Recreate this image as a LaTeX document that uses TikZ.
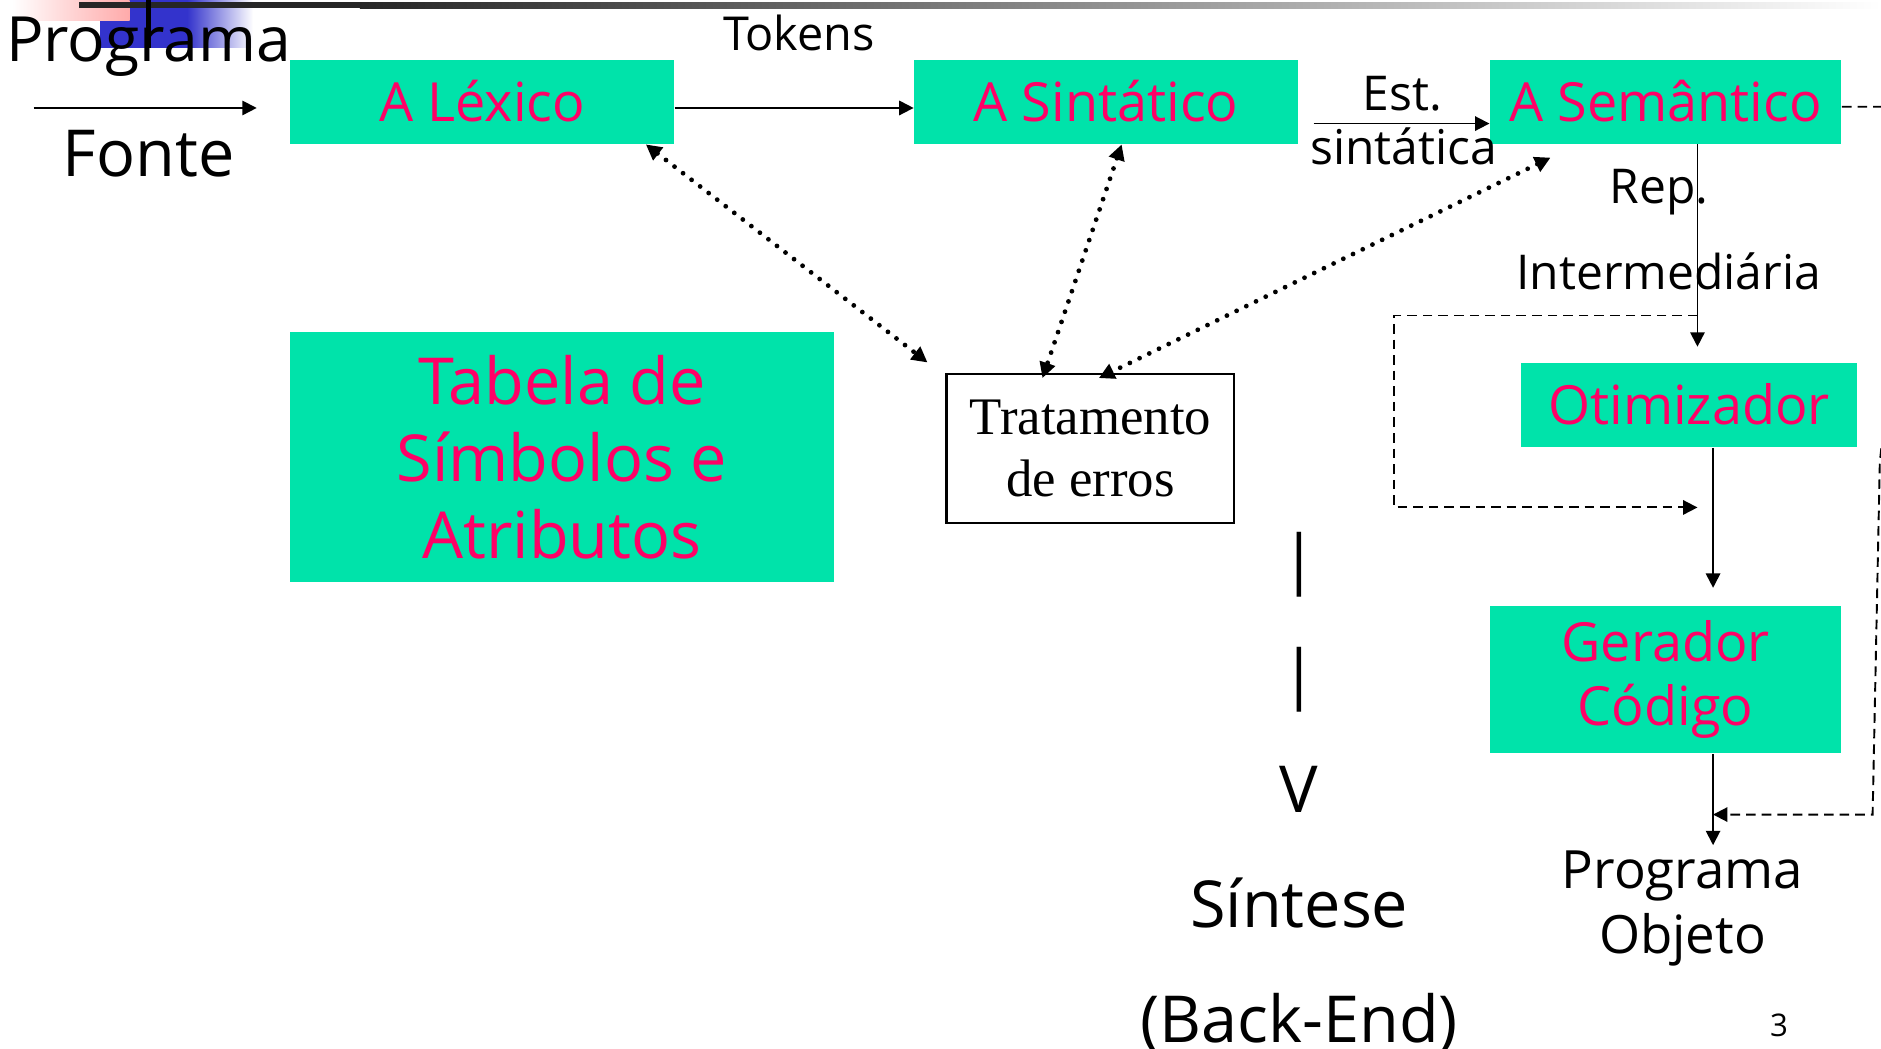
\documentclass[tikz,border=0pt]{standalone}
\usepackage{fontspec}
\setmainfont{Open Sans}
\newfontfamily\timesfont{Liberation Serif}
\usetikzlibrary{arrows.meta}
\definecolor{boxgreen}{RGB}{0,227,170}
\definecolor{boxpink}{RGB}{255,0,102}
\definecolor{tplblue}{RGB}{51,51,204}
\definecolor{tplpink}{RGB}{255,170,170}

\begin{document}
\begin{tikzpicture}[x=0.5pt, y=-0.5pt,
  every node/.style = {inner sep=0pt, align=center},
  phase/.style = {fill=boxgreen, text=boxpink,
    font=\fontsize{22.5}{26.5}\selectfont},
  oneline/.style = {text height=16.2pt, text depth=0pt},
  note/.style = {anchor=base, font=\fontsize{20}{24}\selectfont},
  big/.style = {anchor=base, font=\fontsize{27}{32}\selectfont},
  flow/.style = {line width=0.75pt, -{Triangle[length=6pt,width=6pt]}},
  bypass/.style = {line width=0.8pt, dash pattern=on 4pt off 2.5pt,
    -{Triangle[length=6pt,width=6pt]}},
  errlink/.style = {line width=2pt, line cap=round,
    dash pattern=on 0pt off 4.5pt,
    {Triangle[length=6.5pt,width=6.5pt]}-{Triangle[length=6.5pt,width=6.5pt]}}]
  \useasboundingbox (0,0) rectangle (1568,874);

  % slide template
  \fill[tplblue] (83,0) rectangle (156,40);
  \shade[left color=tplblue, right color=white] (156,0) rectangle (211,40);
  \shade[left color=white, right color=tplpink] (10,0) rectangle (108,17);
  \fill[black!85] (66,2) rectangle (300,7);
  \shade[left color=black!85, right color=white] (300,2) rectangle (1568,7);
  \draw[line width=2pt] (124,0) -- (124,40);

  % analysis chain
  \node[phase, oneline, minimum width=160pt, minimum height=35pt] (lex) at (402,85) {A Léxico};
  \node[phase, oneline, minimum width=160pt, minimum height=35pt] (sin) at (922,85) {A Sintático};
  \node[phase, oneline, minimum width=146.5pt, minimum height=35pt] (sem) at (1388.5,85) {A Semântico};
  \node[phase, oneline, minimum width=140pt, minimum height=35pt] (opt) at (1408,338) {Otimizador};
  \node[phase, minimum width=146.5pt, minimum height=61.5pt] (gen) at (1388.5,566.5) {Gerador\\Código};
  \node[phase, font=\fontsize{27}{32}\selectfont,
    minimum width=226.5pt, minimum height=104pt] (tab) at (468.5,381) {Tabela de\\Símbolos e\\Atributos};
  \node[draw, line width=0.85pt, font=\timesfont\fontsize{22}{26}\selectfont,
    minimum width=120pt, minimum height=62pt] (err) at (909,374) {Tratamento\\de erros};

  % texts
  \node[anchor=base, font=\fontsize{26}{30}\selectfont] (src) at (124,51.4) {Programa};
  \node[big] (fonte) at (124,147) {Fonte};
  \node[note, font=\fontsize{19.5}{24}\selectfont] (tok) at (666,41.7) {Tokens};
  \node[note] (est) at (1169,91.7) {Est.};
  \node[note] (estb) at (1170,137.5) {sintática};
  \node[note] (rep) at (1383,169.4) {Rep.};
  \node[note] (inter) at (1391,241.7) {Intermediária};
  \node[font=\fontsize{22}{27}\selectfont] (obj) at (1402.5,757) {Programa\\Objeto};
  \node[big] (bar1) at (1083,485) {|};
  \node[big] (bar2) at (1083,581) {|};
  \node[big] (vee) at (1083,677) {V};
  \node[big] (synth) at (1083,773) {Síntese};
  \node[big] (back) at (1083,869) {(Back-End)};
  \node[anchor=base, font=\fontsize{13}{16}\selectfont] (page) at (1483,864) {3};

  % connectors
  \coordinate (flowline) at (0,90);
  \coordinate (src-a) at (28,90);
  \coordinate (src-b) at (214,90);
  \coordinate (est-a) at (1095,103);
  \coordinate (opt-in) at (1415,289);
  \coordinate (gen-in) at (1428,490);
  \coordinate (obj-in) at (1428,704.5);
  \coordinate (byp-a) at (1415,263);
  \coordinate (byp-b) at (1162,423);
  \coordinate (back-a) at (1600,89);
  \coordinate (back-b) at (1567,385);
  \coordinate (back-c) at (1561,679);

  \draw[flow] (src-a) -- (src-b);
  \draw[flow] (lex.east |- flowline) -- (sin.west |- flowline);
  \draw[flow] (est-a) -- (est-a -| sem.west);
  \draw[flow] (sem.south -| opt-in) -- (opt-in);
  \draw[flow] (opt.south -| gen-in) -- (gen-in);
  \draw[flow] (gen.south -| obj-in) -- (obj-in);
  \draw[bypass] (byp-a) -| (byp-b) -- (byp-b -| opt-in);
  \draw[bypass] (sem.east |- back-a) -- (back-a) -- (back-b) -- (back-c) -- (back-c -| obj-in);

  \draw[errlink] ([xshift=-12pt]lex.south east) -- ([xshift=-7.5pt,yshift=4.5pt]err.north west);
  \draw[errlink] ([xshift=6.5pt]sin.south) -- ([xshift=-20pt,yshift=-2pt]err.north);
  \draw[errlink] ([xshift=-48pt,yshift=-5.5pt]sem.south) -- ([xshift=3.5pt,yshift=-2pt]err.north);
\end{tikzpicture}
\end{document}
